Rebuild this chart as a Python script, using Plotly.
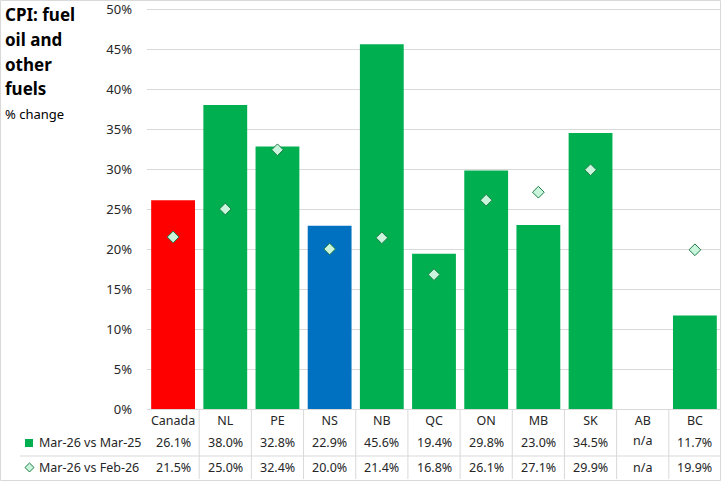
import plotly.graph_objects as go

categories = ["Canada", "NL", "PE", "NS", "NB", "QC", "ON", "MB", "SK", "AB", "BC"]
yoy = [26.1, 38.0, 32.8, 22.9, 45.6, 19.4, 29.8, 23.0, 34.5, None, 11.7]
mom = [21.5, 25.0, 32.4, 20.0, 21.4, 16.8, 26.1, 27.1, 29.9, None, 19.9]
series_names = ["Mar-26 vs Mar-25", "Mar-26 vs Feb-26"]
y_step = 5

W, H = 721, 481
ML, MR, MT, MB = 147, 0, 1, 72
PW, PH = W - ML - MR, H - MT - MB
YMAX = 51  # 8 px per percentage point, 50% gridline at y=9

def px(x):
    return (x - ML) / PW

def py(y):
    return (H - MB - y) / PH

RED = "#FF0000"
BLUE = "#0070C0"
GREEN = "#00B050"
bar_colors = [RED if c == "Canada" else BLUE if c == "NS" else GREEN for c in categories]
FONT = "Noto Sans"
TXT = "#262626"
GRID = "#D9D9D9"
MFILL = "#C9F5DD"
MLINE = "#1E7A45"

xs = list(range(len(categories)))

fig = go.Figure()
fig.add_trace(go.Bar(x=xs, y=yoy, marker=dict(color=bar_colors, line=dict(width=0)),
                     name=series_names[0], showlegend=False, hoverinfo="skip"))
fig.add_trace(go.Scatter(x=xs, y=mom, mode="markers", name=series_names[1], showlegend=False,
                         marker=dict(symbol="diamond", size=9, color=MFILL,
                                     line=dict(color=MLINE, width=1)),
                         hoverinfo="skip", cliponaxis=False))

annotations = []
shapes = []

# Title
title_lines = ["CPI: fuel", "oil and", "other", "fuels"]
for i, t in enumerate(title_lines):
    annotations.append(dict(text="<b>%s</b>" % t, x=px(3), y=py(15 + 24.5 * i), xref="paper", yref="paper",
                            xanchor="left", yanchor="middle", showarrow=False,
                            font=dict(family=FONT, size=17, color="#000000")))
annotations.append(dict(text="% change", x=px(3), y=py(114), xref="paper", yref="paper",
                        xanchor="left", yanchor="middle", showarrow=False,
                        font=dict(family=FONT, size=13, color="#000000")))

def fmt(v):
    return "n/a" if v is None else "%.1f%%" % v

row_y = [443, 467]
for r, vals in enumerate([yoy, mom]):
    for i, v in enumerate(vals):
        yy = row_y[r] - (3 if (v is None and r == 0) else 0)
        annotations.append(dict(text=fmt(v), x=i, y=py(yy), xref="x", yref="paper",
                                xanchor="center", yanchor="middle", showarrow=False,
                                font=dict(family=FONT, size=12.5, color=TXT)))
    annotations.append(dict(text=series_names[r], x=px(37), y=py(row_y[r]), xref="paper", yref="paper",
                            xanchor="left", yanchor="middle", showarrow=False,
                            font=dict(family=FONT, size=12.5, color=TXT)))

# legend keys
shapes.append(dict(type="rect", xref="paper", yref="paper", x0=px(25), x1=px(33),
                   y0=py(447), y1=py(439), fillcolor=GREEN, line=dict(width=0)))
cx, cy, r = 29.5, 467.5, 4.5
shapes.append(dict(type="path", xref="paper", yref="paper",
                   path="M %f,%f L %f,%f L %f,%f L %f,%f Z" % (
                       px(cx), py(cy - r), px(cx + r), py(cy), px(cx), py(cy + r), px(cx - r), py(cy)),
                   fillcolor=MFILL, line=dict(color=MLINE, width=1)))

# table grid lines
for i in range(len(categories) - 1):
    shapes.append(dict(type="line", xref="x", yref="paper", x0=i + 0.5, x1=i + 0.5,
                       y0=py(409), y1=py(479), line=dict(color=GRID, width=1)))
shapes.append(dict(type="line", xref="paper", yref="paper", x0=px(20), x1=1,
                   y0=py(456), y1=py(456), line=dict(color=GRID, width=1)))
# outer border
shapes.append(dict(type="rect", xref="paper", yref="paper", x0=px(0.5), x1=px(720.5),
                   y0=py(480.5), y1=py(0.5), line=dict(color=GRID, width=1), fillcolor="rgba(0,0,0,0)"))

fig.update_layout(
    width=W, height=H,
    margin=dict(l=ML, r=MR, t=MT, b=MB),
    paper_bgcolor="white", plot_bgcolor="white",
    bargap=0.16,
    font=dict(family=FONT, size=13, color=TXT),
    annotations=annotations, shapes=shapes,
    xaxis=dict(range=[-0.5, len(categories) - 0.5], tickmode="array", tickvals=xs, ticktext=categories,
               showgrid=False, zeroline=False, showline=True, linecolor=GRID, linewidth=1, ticks="",
               tickfont=dict(family=FONT, size=12.5, color=TXT), fixedrange=True),
    yaxis=dict(range=[0, YMAX], tickmode="linear", tick0=0, dtick=y_step, ticksuffix="%",
               showgrid=True, gridcolor=GRID, gridwidth=1, ticklabeloverflow="allow",
               zeroline=False, showline=False, ticks="", ticklabelstandoff=14,
               tickfont=dict(family=FONT, size=13, color=TXT), fixedrange=True),
)

fig.write_html("out.html", config={"displayModeBar": False},
               post_script="document.body.style.margin='0';document.body.style.overflow='hidden';")
